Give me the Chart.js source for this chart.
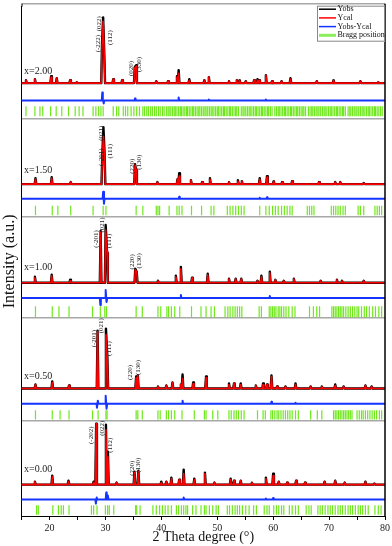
<!DOCTYPE html>
<html>
<head>
<meta charset="utf-8">
<script src="https://cdn.jsdelivr.net/npm/chart.js@4.4.0/dist/chart.umd.min.js"></script>
<style>
  html, body { margin: 0; padding: 0; background: #fff; }
  #wrap { width: 392px; height: 546px; position: relative; }
</style>
</head>
<body>
<div id="wrap"><canvas id="chartXrd"></canvas></div>
<script>
// Rietveld refinement, five compositions (top to bottom)
const compLabels = ['x=2.00', 'x=1.50', 'x=1.00', 'x=0.50', 'x=0.00'];

// peaks: [2theta, Yobs, Ycal] (a.u.)
const peaksX200 = [
  [15.8,3,3],[17.4,4,4],[20.3,7,6],[21.3,5,5],[23.7,3,3],[24.9,1,1],
  [29.4,40,36],[29.6,66,62],[29.8,30,29],[31.4,4,4],[33.0,3,3],
  [35.25,16,15],[35.5,18,17],[39.1,2,2],[41.2,2,2],[42.8,7,6],[43.1,13,10],
  [45.0,4,3],[47.7,3,3],[48.5,6,6],[52.1,2,2],[53.5,3,3],[54.0,3,3],[55.1,2,2],
  [56.6,3,3],[57.2,4,3],[57.5,3,3],[58.7,8,8],[59.8,2,2],[61.5,2,2],[63.1,5,4],
  [67.8,2,2],[70.8,3,3],[75.6,2,2],[78.8,1,1]
];
const peaksX150 = [
  [17.5,6,5],[20.4,7,6],[23.8,2,2],[29.45,30,28],[29.65,57,48],[29.85,32,30],
  [35.3,20,19],[35.5,14,14],[39.3,2,2],[42.9,5,5],[43.2,11,8],[45.3,4,4],[47.3,2,2],
  [48.7,6,5],[52.1,2,2],[53.7,4,3],[54.4,3,3],[57.6,6,5],[58.9,8,7],[60.1,3,3],
  [61.6,2,2],[63.4,3,3],[68.2,2,2],[71.1,2,2],[72.0,2,2],[76.2,1,1]
];
const peaksX100 = [
  [17.4,6,5],[20.4,8,7],[23.7,3,2],[29.15,52,51],[30.05,58,53],[30.3,30,31],
  [35.35,14,13],[35.6,11,11],[39.4,2,2],[42.6,7,6],[43.5,16,14],[45.5,5,5],
  [48.3,9,8],[52.1,4,4],[53.3,4,4],[54.3,4,4],[57.2,2,2],[57.9,7,6],[59.4,11,10],
  [60.4,3,3],[61.9,2,2],[63.7,4,4],[68.5,2,2],[71.4,3,3],[72.3,2,2],[76.2,2,2]
];
const peaksX050 = [
  [17.5,4,4],[20.5,7,6],[23.5,3,3],[28.6,58,57],[30.1,60,54],[30.35,32,30],
  [35.5,12,11],[35.8,13,13],[39.4,2,2],[40.9,3,3],[42.0,6,6],[43.5,4,4],[43.8,14,10],
  [45.7,6,5],[48.0,12,11],[52.1,5,4],[53.0,5,5],[54.2,5,4],[56.9,3,3],[58.2,5,4],
  [58.9,4,4],[59.7,13,12],[60.7,2,2],[62.2,2,2],[64.0,5,4],[66.7,2,2],[68.7,2,2],
  [71.1,4,3],[72.6,2,2],[76.5,3,3],[77.6,2,2]
];
const peaksX000 = [
  [17.4,3,3],[20.5,9,8],[23.4,4,3],[27.9,3,2],[28.35,61,61],[30.1,60,55],[30.45,33,28],
  [32.0,2,2],[35.2,13,12],[35.9,14,13],[40.0,3,2],[40.9,3,3],[41.8,7,6],[43.2,5,5],
  [44.0,15,11],[45.9,6,5],[47.8,12,11],[49.5,2,2],[52.4,6,5],[53.0,4,4],[54.2,4,4],
  [56.2,2,2],[58.7,7,6],[60.0,11,9],[61.0,3,3],[62.5,2,2],[64.1,4,4],[65.7,2,2],
  [69.2,3,3],[71.1,4,4],[72.8,2,2],[76.5,3,3],[78.1,1,1]
];

// Yobs-Ycal: [2theta, value]
const diffX200 = [[29.45,8],[29.7,-3],[35.3,2],[43.1,3],[48.5,1],[58.7,1]];
const diffX150 = [[29.6,7],[29.75,-5],[43.2,2],[57.6,1],[58.9,1.5]];
const diffX100 = [[29.1,-7],[30.05,8],[30.25,-4],[43.5,3],[59.4,2]];
const diffX050 = [[28.5,-4],[28.65,3],[30.05,8],[30.25,-5],[43.8,3],[59.7,2],[64.0,1]];
const diffX000 = [[28.3,-4],[28.45,2],[30.15,7],[30.45,4],[44.0,2],[58.7,1],[60.0,1.5]];

// Bragg positions (2theta)
const braggX200 = [
  15.8,17.4,18.3,18.8,20.2,21.2,22.2,23.4,24.6,25.3,26.0,27.8,28.3,28.8,29.2,29.6,
  31.4,32.0,32.4,33.2,33.6,34.0,34.6,35.1,35.6,36.1,36.7,37.0,37.4,37.7,38.1,38.4,
  38.8,39.1,39.5,39.8,40.2,40.5,40.9,41.2,41.4,41.7,42.0,42.3,42.5,42.8,43.1,43.4,
  43.6,43.9,44.2,44.5,44.7,45.0,45.3,45.6,45.8,46.1,46.4,46.7,46.9,47.2,47.5,47.8,
  48.0,48.3,48.6,48.9,49.1,49.4,49.7,50.0,50.2,50.5,50.8,51.1,51.3,51.6,51.9,52.2,
  52.4,52.7,53.0,53.3,53.5,53.8,54.3,54.6,54.8,55.1,55.4,55.7,55.9,56.2,56.5,56.8,
  57.0,57.3,57.6,57.9,58.1,58.4,58.7,59.0,59.2,59.5,59.8,60.3,60.6,60.9,61.1,61.4,
  61.7,62.0,62.2,62.5,62.8,63.1,63.3,63.6,63.9,64.2,64.4,64.7,65.0,65.3,65.5,65.8,
  66.3,66.6,66.9,67.1,67.4,67.7,68.0,68.2,68.5,68.8,69.1,69.3,69.6,69.9,70.2,70.4,
  70.7,71.0,71.3,71.5,71.8,72.1,72.4,72.6,72.9,73.4,73.7,73.9,74.2,74.5,74.8,75.0,
  75.3,75.6,75.9,76.1,76.4,76.7,77.0,77.2,77.5,77.8,78.1,78.3,78.6,78.9,79.2,79.5
];
const braggX150 = [
  17.5,20.5,21.5,23.8,27.8,29.6,30.1,35.5,36.7,39.1,39.4,39.7,41.4,42.8,43.2,43.7,
  45.4,47.2,48.9,49.4,51.8,52.3,52.8,53.3,53.8,54.3,54.8,57.6,58.7,59.3,59.9,60.4,
  60.9,61.5,62.0,62.5,63.0,63.4,66.1,66.5,66.9,67.3,70.4,70.8,71.2,71.6,72.0,72.5,
  72.9,75.2,75.6,76.2,78.2,78.6,79.0,79.4
];
const braggX100 = [
  17.5,20.5,21.7,23.5,27.7,29.1,29.9,30.2,35.5,36.6,39.4,39.9,41.0,41.3,41.8,42.4,
  43.3,45.4,47.1,48.0,48.9,49.5,51.4,51.9,52.3,52.8,53.2,53.6,54.0,54.4,57.5,57.9,
  59.3,59.6,59.9,60.2,60.5,60.9,61.2,61.5,61.9,62.3,62.8,63.4,63.9,66.5,67.2,67.8,
  68.3,70.5,70.8,71.1,71.4,71.7,72.0,72.3,72.6,73.0,73.4,73.8,74.2,74.6,75.0,75.3,
  75.8,76.3,76.7,77.2,77.8,78.3,78.9,79.4
];
const braggX050 = [
  17.5,20.5,21.9,23.5,27.7,28.7,30.1,30.3,35.5,35.8,36.6,39.4,39.8,40.9,41.3,41.8,
  42.4,43.7,45.9,47.7,48.0,49.2,50.1,52.1,52.5,53.0,53.4,53.8,54.3,54.8,57.2,58.2,
  58.6,59.6,59.9,60.3,60.7,61.0,61.4,61.8,62.2,62.6,63.0,63.4,64.0,64.5,66.7,67.9,
  68.7,70.8,71.1,71.4,71.7,72.0,72.3,72.6,72.9,73.2,73.5,73.8,74.1,75.0,75.4,75.8,
  76.1,76.5,76.9,77.3,77.7,78.1,78.5,79.0,79.4
];
const braggX000 = [
  17.7,18.0,20.6,21.6,22.1,22.5,23.5,27.5,27.9,28.5,30.0,30.4,30.7,31.5,35.4,35.6,
  36.2,38.5,39.1,39.7,40.2,40.7,41.2,41.8,42.7,43.1,43.6,44.0,44.4,44.7,45.6,46.2,
  47.1,47.7,48.0,48.6,49.2,49.8,50.2,51.8,52.2,52.7,53.2,53.6,54.0,54.5,55.1,55.7,
  56.5,57.0,58.4,58.9,59.3,60.1,60.6,61.0,61.5,61.9,62.9,63.4,64.0,64.5,65.9,66.4,
  66.8,68.0,68.4,68.8,69.3,69.8,70.2,70.6,71.1,71.6,72.0,72.4,72.9,73.4,73.8,74.2,
  74.7,75.2,75.6,76.0,76.5,77.0,78.2,78.8,79.3
];

// Miller indices: [label, 2theta]
const hklX200 = [['(-222)',28.75],['(022)',28.95],['(112)',30.8],['(020)',34.6],['(330)',36.05]];
const hklX150 = [['(-201)',29.3],['(021)',29.3],['(111)',30.8],['(220)',34.8],['(130)',36.1]];
const hklX100 = [['(-201)',28.4],['(021)',29.4],['(111)',30.7],['(220)',34.8],['(130)',36.0]];
const hklX050 = [['(-201)',28.0],['(021)',29.3],['(111)',30.7],['(220)',34.5],['(130)',35.8]];
const hklX000 = [['(-202)',27.5],['(022)',29.4],['(112)',30.9],['(220)',34.7],['(130)',35.9]];

// ---- layout (vertical stacking of the panels, in y-axis units) ----
const Y_TOP = 511;
const panelBase = [434.3, 333, 234, 128, 31.5];
const diffBase  = [417, 318.3, 218.7, 112.7, 16.5];
const braggMid  = [406, 306.5, 205, 101.5, 6];
const braggHalf = [5, 4.7, 5.5, 4.7, 4.8];
const compLift  = [11.7, 14, 15.3, 12.3, 14.8];
const hklLift = [
  [39.7, 59.7, 45.7, 14.7, 18.7],
  [27, 51, 33, 18, 22],
  [44, 58, 42, 21, 22],
  [50, 63, 40, 16, 21],
  [49.5, 56.5, 39.5, 16.5, 19.5]
];
const separators = [96, 199, 300, 399];

const allPeaks = [peaksX200, peaksX150, peaksX100, peaksX050, peaksX000];
const allDiff = [diffX200, diffX150, diffX100, diffX050, diffX000];
const allBragg = [braggX200, braggX150, braggX100, braggX050, braggX000];
const allHkl = [hklX200, hklX150, hklX100, hklX050, hklX000];

const SERIF = '"Liberation Serif", "Times New Roman", serif';
const COLORS = { obs: '#000000', cal: '#ff0000', diff: '#1534ff', bragg: '#6ee81a' };

// spike profile: baseline, up to each peak value, back to baseline
function profile(peaks, col, base, w) {
  const pts = [{ x: 15, y: base }];
  peaks.forEach((p, i) => {
    const prev = peaks[i - 1], next = peaks[i + 1];
    if (!prev || p[0] - w > prev[0] + w) pts.push({ x: p[0] - w, y: base });
    pts.push({ x: p[0], y: base + p[col] });
    if (!next || next[0] - w > p[0] + w) pts.push({ x: p[0] + w, y: base });
  });
  pts.push({ x: 80, y: base });
  return pts;
}

const lineStyle = { pointRadius: 0, borderJoinStyle: 'round', borderCapStyle: 'round' };

const datasets = [];
for (let i = 0; i < 5; i++) {
  datasets.push(Object.assign({
    type: 'line', label: 'Ycal', data: profile(allPeaks[i], 2, panelBase[i], 0.14),
    borderColor: COLORS.cal, borderWidth: 1.6, order: 1
  }, lineStyle));
  datasets.push(Object.assign({
    type: 'line', label: 'Yobs', data: profile(allPeaks[i], 1, panelBase[i], 0.14),
    borderColor: COLORS.obs, borderWidth: 2.4, order: 2
  }, lineStyle));
  datasets.push(Object.assign({
    type: 'line', label: 'Yobs-Ycal', data: profile(allDiff[i], 1, diffBase[i], 0.09),
    borderColor: COLORS.diff, borderWidth: 2, order: 3
  }, lineStyle));
  datasets.push({
    type: 'scatter', label: 'Bragg position',
    data: allBragg[i].map(v => ({ x: v, y: braggMid[i] })),
    showLine: false, pointStyle: 'line', rotation: 90, pointRadius: braggHalf[i],
    borderColor: COLORS.bragg, backgroundColor: COLORS.bragg, borderWidth: 1.2, order: 4
  });
}

const annotatePlugin = {
  id: 'annotate',
  afterDatasetsDraw(chart) {
    const { ctx, chartArea: a, scales: { x, y } } = chart;
    const top = a.top - 3;
    ctx.save();
    // frame: gray top, black sides
    ctx.strokeStyle = '#a8a8a8';
    ctx.lineWidth = 1.5;
    ctx.beginPath();
    ctx.moveTo(a.left, top);
    ctx.lineTo(a.right, top);
    ctx.stroke();
    ctx.strokeStyle = '#000';
    ctx.lineWidth = 1;
    ctx.beginPath();
    ctx.moveTo(a.left + 0.5, top);
    ctx.lineTo(a.left + 0.5, a.top);
    ctx.stroke();
    ctx.lineWidth = 1.5;
    ctx.beginPath();
    ctx.moveTo(a.right, top);
    ctx.lineTo(a.right, a.bottom);
    ctx.stroke();

    // composition labels
    ctx.fillStyle = '#222';
    ctx.font = '10px ' + SERIF;
    ctx.textAlign = 'left';
    ctx.textBaseline = 'middle';
    compLabels.forEach((t, i) => {
      ctx.fillText(t, x.getPixelForValue(15.45), y.getPixelForValue(panelBase[i] + compLift[i]));
    });

    // hkl labels (rotated)
    ctx.font = '7px ' + SERIF;
    ctx.textAlign = 'center';
    allHkl.forEach((list, i) => {
      list.forEach((h, j) => {
        ctx.save();
        ctx.translate(x.getPixelForValue(h[1]), y.getPixelForValue(panelBase[i] + hklLift[i][j]));
        ctx.rotate(-Math.PI / 2);
        ctx.fillText(h[0], 0, 0);
        ctx.restore();
      });
    });

    // legend box
    const bx = a.right - 68, by = top + 2, bw = 68, bh = 36;
    ctx.fillStyle = '#fff';
    ctx.fillRect(bx, by, bw, bh);
    ctx.strokeStyle = '#888';
    ctx.lineWidth = 1;
    ctx.strokeRect(bx + 0.5, by + 0.5, bw - 1, bh - 1);
    const items = [
      ['Yobs', COLORS.obs, 1.5], ['Ycal', COLORS.cal, 1.5],
      ['Yobs-Ycal', COLORS.diff, 1.5], ['Bragg position', '#8cee5a', 3]
    ];
    ctx.font = '8px ' + SERIF;
    ctx.textAlign = 'left';
    items.forEach((it, k) => {
      const ry = by + 3.5 + k * 8.7;
      ctx.strokeStyle = it[1];
      ctx.lineWidth = it[2];
      ctx.beginPath();
      ctx.moveTo(bx + 2, ry);
      ctx.lineTo(bx + 19, ry);
      ctx.stroke();
      ctx.fillStyle = '#111';
      ctx.fillText(it[0], bx + 20.5, ry);
    });
    ctx.restore();
  }
};

new Chart(document.getElementById('chartXrd'), {
  type: 'line',
  data: { datasets },
  options: {
    responsive: true,
    maintainAspectRatio: false,
    animation: false,
    layout: { padding: { top: 0, right: 6, left: 0, bottom: 0 } },
    plugins: { legend: { display: false }, tooltip: { enabled: false } },
    elements: { line: { tension: 0 } },
    scales: {
      x: {
        type: 'linear', min: 15, max: 80,
        ticks: {
          stepSize: 5, autoSkip: false, maxRotation: 0, padding: 2,
          color: '#222', font: { family: SERIF, size: 10 },
          callback: v => (v % 10 === 0 ? v : '')
        },
        grid: { drawOnChartArea: false, drawTicks: true, tickLength: 4, color: '#000' },
        border: { color: '#000', width: 1 },
        title: {
          display: true, text: '2 Theta degree (°)', color: '#111',
          font: { family: SERIF, size: 14 }, padding: { top: 0, bottom: 0 }
        },
        afterFit: s => { s.height = 30; }
      },
      y: {
        min: 0, max: Y_TOP,
        ticks: { display: false },
        afterBuildTicks: s => { s.ticks = separators.map(v => ({ value: v })); },
        grid: { color: '#a8a8a8', lineWidth: 1.5, drawTicks: false },
        border: { color: '#000', width: 1 },
        title: {
          display: true, text: 'Intensity (a.u.)', color: '#111',
          font: { family: SERIF, size: 16 }, padding: 0
        },
        afterFit: s => { s.width = 21.5; }
      }
    }
  },
  plugins: [annotatePlugin]
});
</script>
</body>
</html>
